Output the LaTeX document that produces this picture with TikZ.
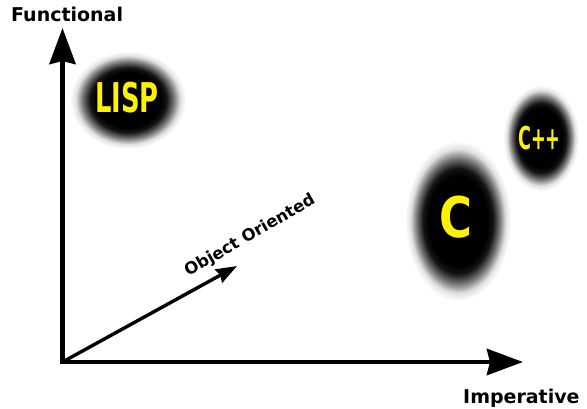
\documentclass[tikz,border=0pt]{standalone}
\usepackage{fontspec}
\setmainfont{DejaVu Sans}
\usetikzlibrary{arrows.meta}
\pgfdeclareradialshading{blobshade}{\pgfpoint{0bp}{0bp}}{color(0bp)=(black); color(14bp)=(black); color(16.5bp)=(black!92); color(19.5bp)=(black!55); color(22.5bp)=(black!12); color(25bp)=(white); color(50bp)=(white)}
\tikzset{
  blob/.style={shading=blobshade},
  axis/.style={line width=4.8pt, line cap=rect, -{Stealth[length=36pt,width=26pt,inset=3pt]}},
  oaxis/.style={line width=3.4pt, line cap=butt, -{Stealth[length=21pt,width=15pt,inset=2pt]}},
  axlabel/.style={inner sep=0pt, font=\bfseries\fontsize{19}{19}\selectfont},
  lang/.style={inner sep=0pt, text=yellow, font=\bfseries}
}
\begin{document}
\begin{tikzpicture}[x=1pt,y=-1pt]
\useasboundingbox (0,0) rectangle (587,408);
% blurred blobs
\shade[blob] (128,100) ellipse [x radius=58, y radius=49];
\shade[blob] (458,221) ellipse [x radius=53, y radius=80];
\shade[blob] (541,138) ellipse [x radius=38, y radius=53];
% axes
\coordinate (O) at (62.5,362);
\coordinate (F) at (62.5,28);
\coordinate (I) at (523,362);
\coordinate (OO) at (237,266);
\draw[axis] (O) -- (F);
\draw[axis] (O) -- (I);
\draw[oaxis] (O) -- (OO);
% labels
\node[axlabel, anchor=base west] (fl) at (11,21) {Functional};
\node[axlabel, anchor=base west] (il) at (463,403) {Imperative};
\node[inner sep=0pt, font=\bfseries\fontsize{16.5}{16.5}\selectfont, rotate=30] (ol) at (250,236) {Object Oriented};
% languages
\node[lang, font=\bfseries\fontsize{41}{41}\selectfont] (lisp) at (127,98) {\scalebox{0.63}[1]{LISP}};
\node[lang, font=\bfseries\fontsize{56}{56}\selectfont] (c) at (456,217.5) {\scalebox{0.8}[1]{C}};
\node[lang, font=\bfseries\fontsize{31.5}{31.5}\selectfont] (cpp) at (539.5,138.5) {\scalebox{0.56}[1]{C++}};
\end{tikzpicture}
\end{document}
